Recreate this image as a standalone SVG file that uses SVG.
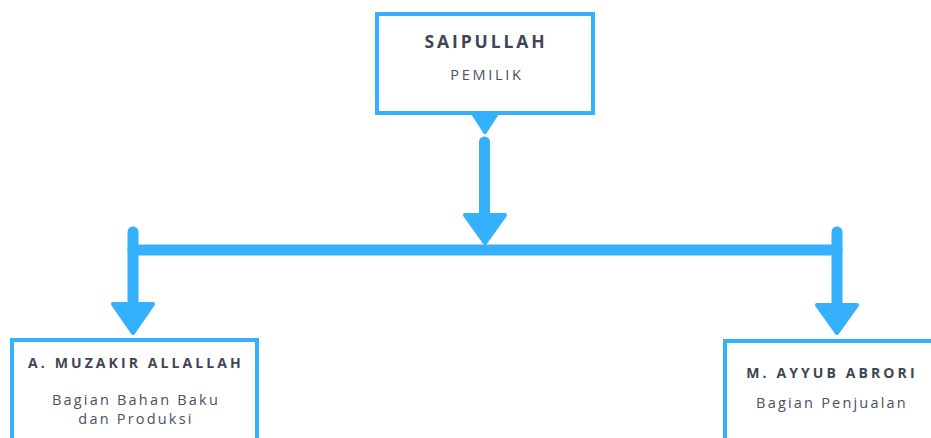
<svg xmlns="http://www.w3.org/2000/svg" width="931" height="438" viewBox="0 0 931 438">
  <style>
    .box { fill: #ffffff; stroke: #35b0fd; stroke-width: 4; }
    .name { font-family: "Open Sans", "Noto Sans", sans-serif; font-weight: 700; fill: #3e4555; text-anchor: middle; }
    .role { font-family: "Open Sans", "Noto Sans", sans-serif; font-weight: 400; fill: #4a5060; text-anchor: middle; }
    .line { stroke: #35b0fd; stroke-width: 11; stroke-linecap: round; fill: none; }
    .head { fill: #35b0fd; stroke: #35b0fd; stroke-width: 4; stroke-linejoin: round; }
  </style>

  <rect width="931" height="438" fill="#ffffff"/>

  <!-- connectors -->
  <g id="connectors">
    <polygon class="head" points="474,115 496,115 485,132" stroke-width="1"/>
    <line class="line" x1="484.5" y1="142" x2="484.5" y2="222"/>
    <polygon class="head" points="465,215 505,215 485,243"/>
    <line class="line" x1="133" y1="250" x2="837" y2="250" stroke-linecap="butt"/>
    <line class="line" x1="133" y1="232" x2="133" y2="308"/>
    <polygon class="head" points="113,304 153,304 133,333"/>
    <line class="line" x1="837" y1="232" x2="837" y2="308"/>
    <polygon class="head" points="817,305 857,305 837,333"/>
  </g>

  <!-- owner -->
  <g id="node-owner">
    <rect class="box" x="377" y="14" width="216" height="99"/>
    <text class="name" x="486" y="48" font-size="17.5" letter-spacing="2.9">SAIPULLAH</text>
    <text class="role" x="487" y="80" font-size="14.5" letter-spacing="2.7">PEMILIK</text>
  </g>

  <!-- raw materials and production -->
  <g id="node-production">
    <rect class="box" x="12" y="340" width="245" height="110"/>
    <text class="name" x="136" y="368" font-size="14" letter-spacing="3.1">A. MUZAKIR ALLALLAH</text>
    <text class="role" x="136" y="405" font-size="14.5" letter-spacing="2.2">Bagian Bahan Baku</text>
    <text class="role" x="136" y="424" font-size="14.5" letter-spacing="2.2">dan Produksi</text>
  </g>

  <!-- sales -->
  <g id="node-sales">
    <rect class="box" x="725" y="341" width="214" height="110"/>
    <text class="name" x="832" y="378" font-size="14" letter-spacing="3.1">M. AYYUB ABRORI</text>
    <text class="role" x="832" y="408" font-size="14.5" letter-spacing="2.2">Bagian Penjualan</text>
  </g>
</svg>
